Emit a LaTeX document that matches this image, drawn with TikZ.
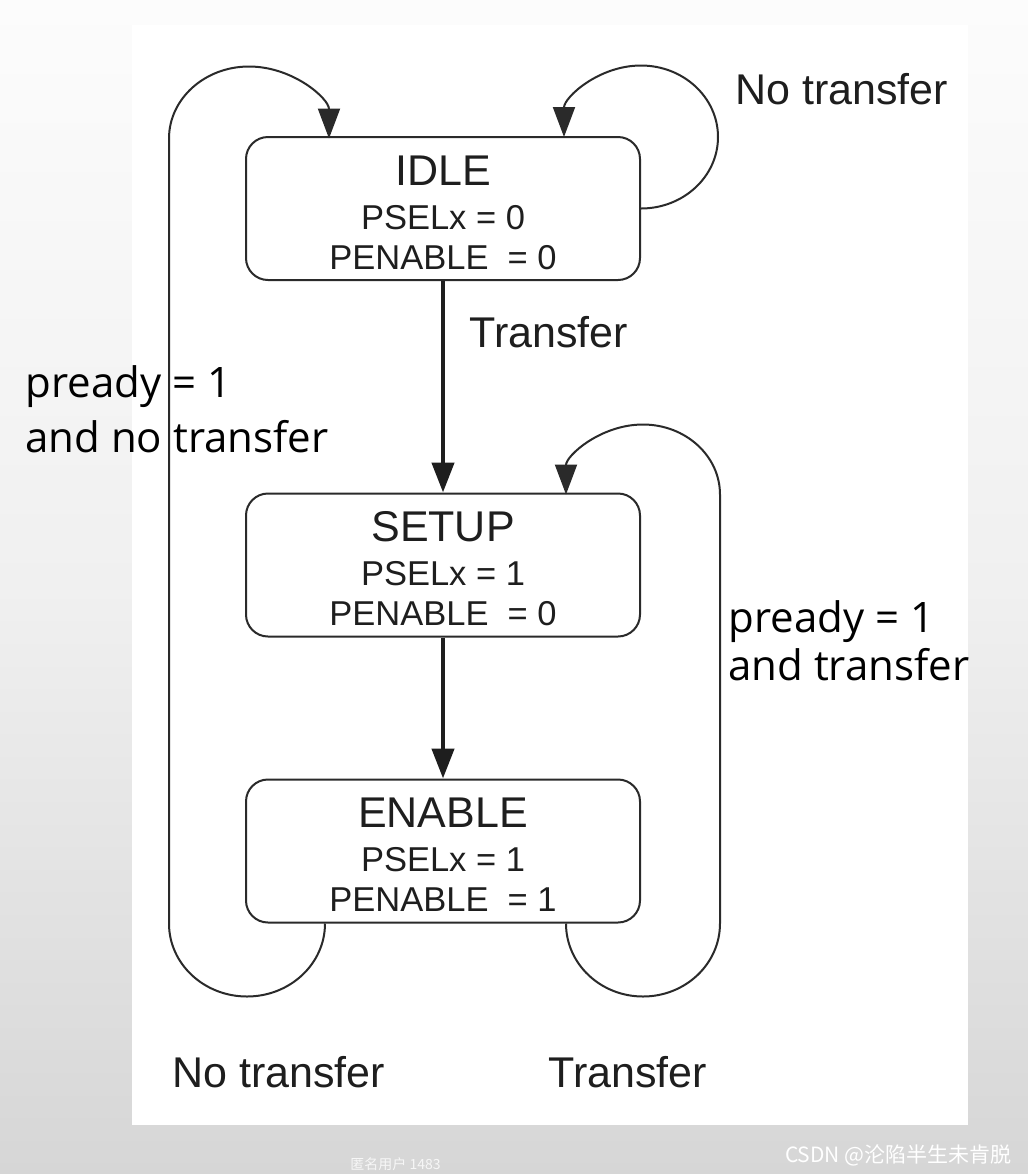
\documentclass[tikz,border=0pt]{standalone}
\usepackage{fontspec}
\setmainfont{Liberation Sans}
\newfontfamily\annfont{Open Sans}
\newfontfamily\cjkfont{Noto Sans CJK SC}
\usetikzlibrary{arrows.meta,calc}
\definecolor{ink}{HTML}{1E1E1E}
\definecolor{wire}{HTML}{2A2A2A}
\definecolor{pagetop}{HTML}{FCFCFC}
\definecolor{pagemid}{HTML}{F0F0F0}
\definecolor{pagebot}{HTML}{D6D6D6}
\begin{document}
\begin{tikzpicture}[x=0.5pt,y=0.5pt,
  statebox/.style={draw=wire, line width=1pt, rounded corners=11pt,
    minimum width=197pt, minimum height=71.5pt, inner sep=0pt},
  stitle/.style={anchor=base, inner sep=0pt, text=ink, font=\fontsize{21.5}{24}\selectfont},
  sline/.style={anchor=base, inner sep=0pt, text=ink, font=\fontsize{17.25}{20}\selectfont},
  elabel/.style={anchor=base west, inner sep=0pt, text=ink, font=\fontsize{21.5}{24}\selectfont},
  note/.style={anchor=base west, inner sep=0pt, text=black, font=\annfont\fontsize{21}{24}\selectfont},
  backarc/.style={draw=wire, line width=1pt, -{Triangle[length=15pt,width=11pt]}},
  mainflow/.style={draw=ink, line width=2.2pt, -{Triangle[length=15pt,width=11pt]}},
  pagemark/.style={inner sep=0pt, text=white, font=\cjkfont\fontsize{10.5}{12}\selectfont}
]
\useasboundingbox (0,0) rectangle (1028,-1174);

% page and sheet
\shade[top color=pagetop, bottom color=pagebot, middle color=pagemid] (0,0) rectangle (1028,-1174);
\fill[white] (132,-25) rectangle (968,-1125);

% states
\node[statebox] (idle)   at (443,-208.5) {};
\node[statebox] (setup)  at (443,-565)   {};
\node[statebox] (enable) at (443,-851)   {};

\node[stitle] (idleT) at ($(idle.north)+(0,-49)$)  {IDLE};
\node[sline]  (idleA) at ($(idle.north)+(0,-93)$)  {PSELx = 0};
\node[sline]  (idleB) at ($(idle.north)+(0,-133)$) {PENABLE\ \ = 0};

\node[stitle] (setupT) at ($(setup.north)+(0,-49)$)  {SETUP};
\node[sline]  (setupA) at ($(setup.north)+(0,-93)$)  {PSELx = 1};
\node[sline]  (setupB) at ($(setup.north)+(0,-133)$) {PENABLE\ \ = 0};

\node[stitle] (enableT) at ($(enable.north)+(0,-49)$)  {ENABLE};
\node[sline]  (enableA) at ($(enable.north)+(0,-93)$)  {PSELx = 1};
\node[sline]  (enableB) at ($(enable.north)+(0,-133)$) {PENABLE\ \ = 1};

% main flow
\draw[mainflow] (idle.south) -- (setup.north);
\draw[mainflow] (setup.south) -- (enable.north);

% IDLE self loop
\draw[backarc] (idle.east) arc[start angle=-90, end angle=180, x radius=77, y radius=71.5];

% ENABLE back to IDLE
\coordinate (backL) at ($(enable.south west)+(80,0)$);
\draw[backarc] (backL) arc[start angle=0, end angle=-180, x radius=78, y radius=73]
  -- ++(0,785) arc[start angle=180, end angle=0, x radius=80, y radius=72];

% ENABLE back to SETUP
\coordinate (backR) at ($(enable.south east)+(-75,0)$);
\draw[backarc] (backR) arc[start angle=180, end angle=360, x radius=77, y radius=73]
  -- ++(0,429) arc[start angle=0, end angle=180, x radius=77, y radius=70];

% transition labels
\node[elabel] (lblNoTop)  at (735,-104)  {No transfer};
\node[elabel] (lblTr)     at (469,-347)  {Transfer};
\node[elabel] (lblNoBot)  at (172,-1087) {No transfer};
\node[elabel] (lblTrBot)  at (548,-1087) {Transfer};

\node[note] (noteL1) at (25,-397)  {pready = 1};
\node[note] (noteL2) at (25,-452)  {and no transfer};
\node[note] (noteR1) at (728,-632) {pready = 1};
\node[note] (noteR2) at (728,-680) {and transfer};

% marks on the page
\node[pagemark, anchor=base east] (wm) at (1012,-1162) {CSDN @沦陷半生未肯脱};
\node[pagemark, anchor=base west, font=\cjkfont\fontsize{7}{9}\selectfont, opacity=0.8] (wm2) at (350,-1169) {匿名用户 1483};
\end{tikzpicture}
\end{document}
